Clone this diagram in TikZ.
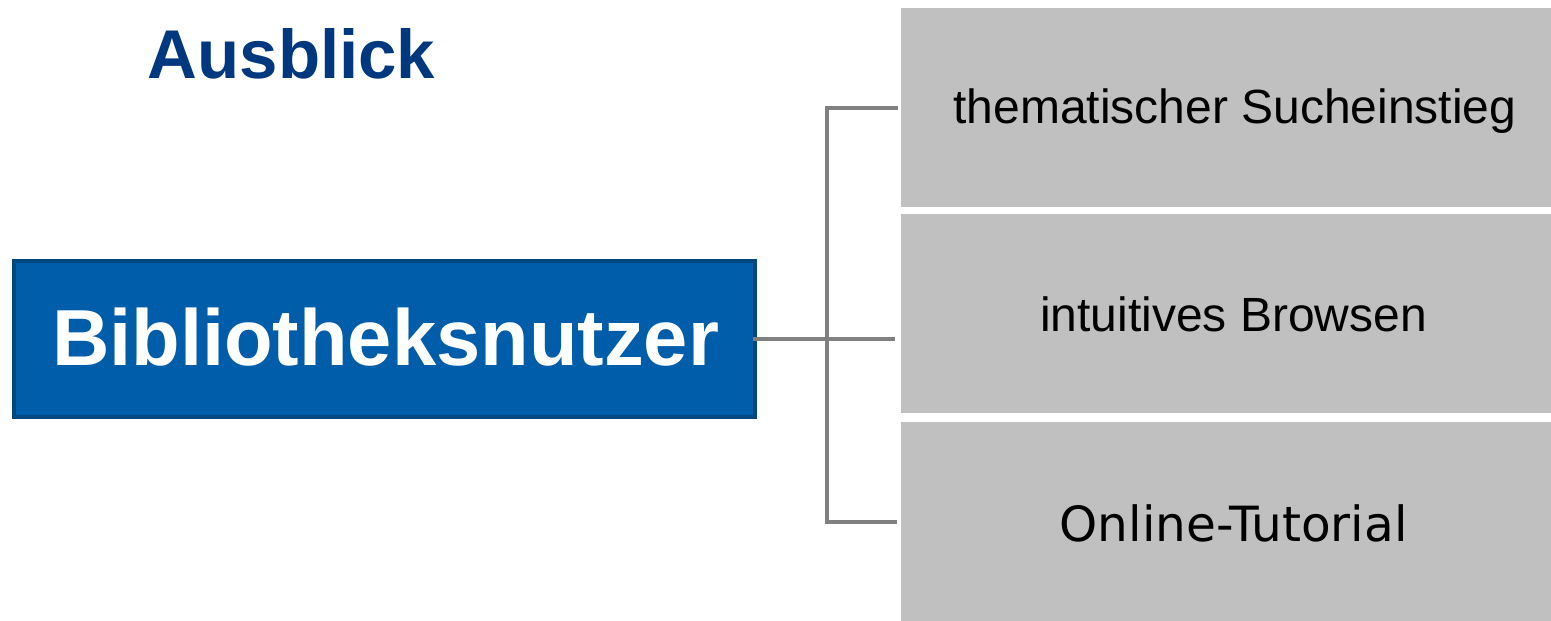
\documentclass[tikz,border=0pt]{standalone}
\usepackage{fontspec}
\setmainfont{Liberation Sans}
\newfontfamily\dejavu{DejaVu Sans}
\definecolor{ubblue}{RGB}{0,93,170}
\definecolor{ubborder}{RGB}{0,70,127}
\definecolor{titleblue}{RGB}{0,56,127}
\definecolor{boxgray}{RGB}{192,192,192}
\definecolor{linegray}{RGB}{128,128,128}
\tikzset{
  graybox/.style={fill=boxgray, draw=none, inner sep=0pt, outer sep=0pt,
    minimum width=650pt, minimum height=199pt, anchor=north west},
  userbox/.style={fill=ubblue, draw=ubborder, line width=4pt, inner sep=0pt, outer sep=0pt,
    minimum width=741pt, minimum height=156pt},
  conn/.style={draw=linegray, line width=4pt, line join=miter},
  itemtext/.style={anchor=base, inner sep=0pt, text=black, font=\fontsize{48}{56}\selectfont},
}
\begin{document}
\begin{tikzpicture}[x=1pt,y=-1pt]
\useasboundingbox (0,0) rectangle (1551,621);
\node[graybox] (b1) at (901,8) {};
\node[graybox] (b2) at (901,214) {};
\node[graybox] (b3) at (901,422) {};
\node[userbox] (user) at (384.5,339) {};
\node[anchor=base, inner sep=0pt, text=white, font=\bfseries\fontsize{79.5}{90}\selectfont] (ulabel) at (385.5,365) {Bibliotheksnutzer};
\node[anchor=base, inner sep=0pt, text=titleblue, font=\bfseries\fontsize{69}{80}\selectfont] (title) at (291.5,78) {Ausblick};
\node[itemtext] (t1) at (1235,123) {thematischer Sucheinstieg};
\node[itemtext] (t2) at (1233.5,331) {intuitives Browsen};
\node[itemtext, font=\dejavu\fontsize{48.5}{56}\selectfont] (t3) at (1233.5,541) {Online-Tutorial};
\coordinate (jx) at (827,0);
\draw[conn] ([xshift=-3pt]b1.west) -- (b1.west -| jx) -- (b3.west -| jx) -- ([xshift=-4pt]b3.west);
\draw[conn] ([xshift=-2pt]user.east) -- ([xshift=-6pt]user.east -| b2.west);
\end{tikzpicture}
\end{document}
